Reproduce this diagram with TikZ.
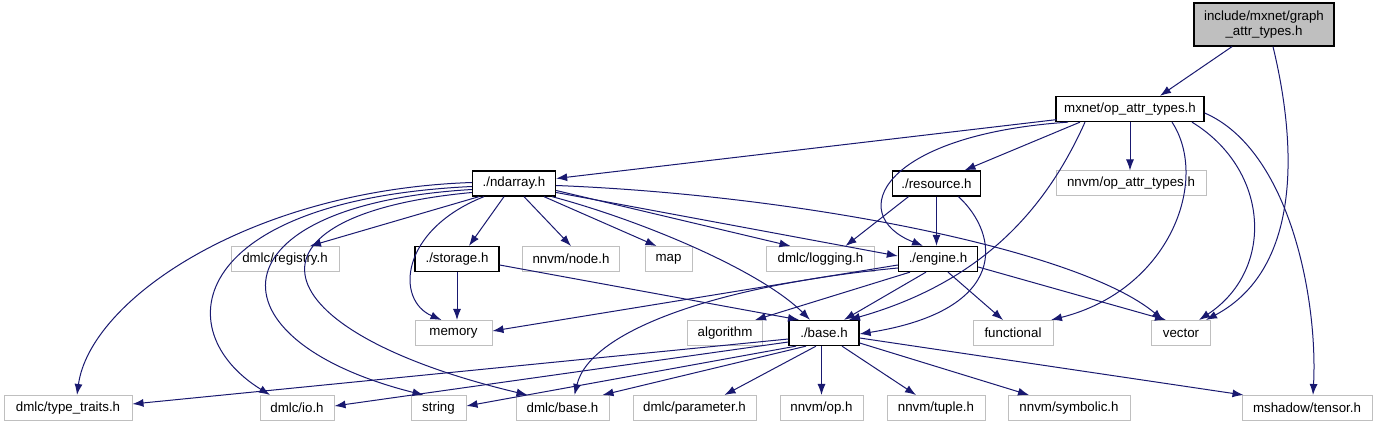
\documentclass[tikz,border=0pt]{standalone}
\usepackage{fontspec}
\setmainfont{Liberation Sans}
\usetikzlibrary{arrows.meta}
\definecolor{edgec}{HTML}{191970}
\definecolor{grayb}{HTML}{BFBFBF}
\begin{document}
\begin{tikzpicture}[x=1pt,y=-1pt,
  box/.style={draw=grayb, line width=1pt, font=\fontsize{13.3}{15}\selectfont, minimum height=25pt, inner xsep=2pt, inner ysep=0pt, anchor=center},
  ibox/.style={box, draw=black, line width=1.3pt},
  e/.style={draw=edgec, line width=1pt, -{Latex[length=11pt,width=8pt]}}]
\useasboundingbox[fill=white] (0,0) rectangle (1377,427);
% nodes
\node[ibox, fill=grayb, minimum width=140pt, minimum height=43pt, align=center] (graph) at (1264,24.5) {include/mxnet/graph\\\_attr\_types.h};
\node[ibox, minimum width=148pt] (opattr) at (1130,109) {mxnet/op\_attr\_types.h};
\node[ibox, minimum width=83pt] (ndarray) at (514,183.5) {./ndarray.h};
\node[ibox, minimum width=88pt] (resource) at (936.5,183.5) {./resource.h};
\node[box, minimum width=150pt] (nnvmopattr) at (1131,183.5) {nnvm/op\_attr\_types.h};
\node[box, minimum width=108pt] (registry) at (285,259) {dmlc/registry.h};
\node[ibox, minimum width=84pt] (storage) at (457,259) {./storage.h};
\node[box, minimum width=97pt] (node) at (571,259) {nnvm/node.h};
\node[box, minimum width=47pt] (map) at (668.5,259) {map};
\node[box, minimum width=108pt] (logging) at (820.5,259) {dmlc/logging.h};
\node[ibox, minimum width=79pt] (engine) at (938,259) {./engine.h};
\node[box, minimum width=77pt] (memory) at (453.5,333) {memory};
\node[box, minimum width=75pt] (algorithm) at (725,333) {algorithm};
\node[ibox, minimum width=70pt] (base) at (824,333) {./base.h};
\node[box, minimum width=80pt] (functional) at (1013,333) {functional};
\node[box, minimum width=59pt] (vector) at (1181,333) {vector};
\node[box, minimum width=128pt] (typetraits) at (68,408) {dmlc/type\_traits.h};
\node[box, minimum width=74pt] (io) at (297,408) {dmlc/io.h};
\node[box, minimum width=55pt] (string) at (438.5,408) {string};
\node[box, minimum width=93pt] (dbase) at (562.5,408) {dmlc/base.h};
\node[box, minimum width=123pt] (param) at (694.5,408) {dmlc/parameter.h};
\node[box, minimum width=83pt] (op) at (821.5,408) {nnvm/op.h};
\node[box, minimum width=98pt] (tuple) at (936,408) {nnvm/tuple.h};
\node[box, minimum width=122pt] (symbolic) at (1069,408) {nnvm/symbolic.h};
\node[box, minimum width=130pt] (mshadow) at (1307,408) {mshadow/tensor.h};
% graph
\draw[e] ([xshift=-32pt]graph.south) -- ([xshift=30pt]opattr.north);
\draw[e] ([xshift=9pt]graph.south) .. controls (1298,150) and (1300,270) .. ([xshift=25pt]vector.north);
% opattr
\draw[e] ([xshift=1pt,yshift=2.5pt]opattr.south west) -- ([yshift=5pt]ndarray.east);
\draw[e] ([xshift=-50pt]opattr.south) -- ([xshift=28pt]resource.north);
\draw[e] (opattr.south) -- (opattr.south |- nnvmopattr.north);
\draw[e] ([xshift=-62pt]opattr.south) .. controls (880,135) and (845,215) .. ([xshift=-15pt]engine.north);
\draw[e] ([xshift=-45pt]opattr.south) .. controls (1050,200) and (990,280) .. ([xshift=25pt]base.north);
\draw[e] ([xshift=42pt]opattr.south) .. controls (1210,180) and (1170,290) .. ([xshift=38pt]functional.north);
\draw[e] ([xshift=62pt]opattr.south) .. controls (1270,170) and (1275,270) .. ([xshift=18pt]vector.north);
\draw[e] ([yshift=-4pt]opattr.east) .. controls (1290,150) and (1318,300) .. ([xshift=6pt]mshadow.north);
% ndarray
\draw[e] ([xshift=-35pt]ndarray.south) -- ([xshift=25pt]registry.north);
\draw[e] ([xshift=-10pt]ndarray.south) -- ([xshift=12pt]storage.north);
\draw[e] ([xshift=10pt]ndarray.south) -- (node.north);
\draw[e] ([xshift=30pt]ndarray.south) -- ([xshift=-12pt]map.north);
\draw[e] ([yshift=-7pt]ndarray.east) -- ([xshift=-30pt]logging.north);
\draw[e] ([yshift=-9pt]ndarray.east) -- ([yshift=3pt]engine.west);
\draw[e] ([xshift=38pt]ndarray.south) .. controls (640,220) and (760,270) .. ([xshift=-14pt]base.north);
\draw[e] ([yshift=-2pt]ndarray.east) .. controls (800,195) and (1080,250) .. ([xshift=-18pt]vector.north);
\draw[e] ([yshift=1pt]ndarray.west) .. controls (250,190) and (90,300) .. ([xshift=9pt]typetraits.north);
\draw[e] ([yshift=-3pt]ndarray.west) .. controls (190,200) and (165,330) .. ([xshift=-27pt]io.north);
\draw[e] ([yshift=-6pt]ndarray.west) .. controls (210,205) and (205,340) .. ([xshift=-15pt]string.north);
\draw[e] ([yshift=-9pt]ndarray.west) .. controls (230,215) and (255,330) .. ([xshift=-35pt]dbase.north);
\draw[e] ([xshift=-30pt]ndarray.south) .. controls (400,230) and (395,300) .. ([xshift=-12pt]memory.north);
% resource
\draw[e] ([xshift=-28pt]resource.south) -- ([xshift=25pt]logging.north);
\draw[e] (resource.south) -- (resource.south |- engine.north);
\draw[e] ([xshift=22pt]resource.south) .. controls (1000,235) and (1010,310) .. ([yshift=-1pt]base.east);
% storage
\draw[e] (storage.south) -- (storage.south |- memory.north);
\draw[e] ([yshift=-6pt]storage.east) -- ([xshift=-25pt]base.north);
% engine
\draw[e] ([yshift=-6pt]engine.west) -- ([yshift=2pt]memory.east);
\draw[e] ([yshift=-9pt]engine.west) .. controls (720,285) and (590,330) .. ([xshift=12pt]dbase.north);
\draw[e] ([xshift=-28pt]engine.south) -- ([xshift=30pt]algorithm.north);
\draw[e] ([xshift=-12pt]engine.south) -- ([xshift=20pt]base.north);
\draw[e] ([xshift=10pt]engine.south) -- ([xshift=-10pt]functional.north);
\draw[e] ([yshift=-8pt]engine.east) -- ([xshift=-15pt]vector.north);
% base
\draw[e] ([yshift=-6pt]base.west) -- ([yshift=4pt]typetraits.east);
\draw[e] ([yshift=-9pt]base.west) -- ([yshift=2pt]io.east);
\draw[e] ([xshift=-28pt]base.south) -- ([yshift=2pt]string.east);
\draw[e] ([xshift=-18pt]base.south) -- ([xshift=40pt]dbase.north);
\draw[e] ([xshift=-8pt]base.south) -- ([xshift=30pt]param.north);
\draw[e] (op.north |- base.south) -- (op.north);
\draw[e] ([xshift=18pt]base.south) -- ([xshift=-20pt]tuple.north);
\draw[e] ([yshift=-10pt]base.east) -- ([xshift=-40pt]symbolic.north);
\draw[e] ([yshift=-5pt]base.east) -- ([xshift=2pt]mshadow.north west);
\end{tikzpicture}
\end{document}
